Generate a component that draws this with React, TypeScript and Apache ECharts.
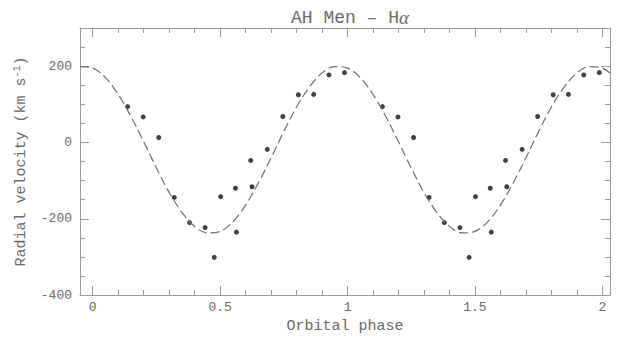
import React, { useEffect, useRef } from "react";
import * as echarts from "echarts";

// Observed radial velocities (km/s) against orbital phase, one cycle.
const phases = [
  0.137, 0.198, 0.259, 0.32, 0.38, 0.441, 0.477, 0.502, 0.56, 0.564, 0.62,
  0.625, 0.685, 0.746, 0.807, 0.867, 0.927, 0.988,
];
const velocities = [
  94, 67, 13, -144, -210, -223, -301, -142, -120, -235, -47, -116, -18, 68,
  125, 126, 177, 183,
];

// Fitted orbit, sampled every 0.05 in phase over one cycle (phase 0 .. 0.95).
const fitStep = 0.05;
const fitCycle = [
  195, 170, 126, 68, 2, -67, -131, -183, -220, -237, -233, -208, -164, -106,
  -40, 29, 93, 145, 182, 199,
];

const titleText = "AH Men – H";
const xName = "Orbital phase";

const FONT = "Liberation Mono";
const TEXT = "#6a6a6a";
const FRAME = "#9a9a9a";

export default function App() {
  const ref = useRef<HTMLDivElement>(null);

  useEffect(() => {
    if (!ref.current) return;
    const chart = echarts.init(ref.current, undefined, { renderer: "svg" });

    // Phase-folded plot: each observation is shown at φ and at φ + 1.
    const points: number[][] = [];
    for (let c = 0; c < 2; c++) {
      phases.forEach((p, i) => points.push([p + c, velocities[i]]));
    }

    // Fitted curve repeated over the plotted phase range (-0.05 .. 2.05).
    const n = fitCycle.length;
    const fit: number[][] = [];
    for (let k = -1; k <= 2 * n + 1; k++) {
      const idx = ((k % n) + n) % n;
      fit.push([+(k * fitStep).toFixed(2), fitCycle[idx]]);
    }

    const tickLine = { color: FRAME, width: 1 };
    const baseX = {
      type: "value" as const,
      min: -0.05,
      max: 2.03,
      splitNumber: 4,
      axisLine: { show: true, onZero: false, lineStyle: tickLine },
      axisTick: { show: true, inside: true, length: 9, lineStyle: tickLine },
      minorTick: { show: true, splitNumber: 5, length: 5, lineStyle: tickLine },
      splitLine: { show: false },
    };
    const baseY = {
      type: "value" as const,
      min: -400,
      max: 300,
      interval: 200,
      axisLine: { show: true, onZero: false, lineStyle: tickLine },
      axisTick: { show: true, inside: true, length: 9, lineStyle: tickLine },
      minorTick: { show: true, splitNumber: 4, length: 5, lineStyle: tickLine },
      splitLine: { show: false },
    };

    chart.setOption({
      animation: false,
      backgroundColor: "#ffffff",
      title: {
        text: `{n|${titleText}}{a|α}`,
        left: 345,
        top: 3,
        textAlign: "center",
        textStyle: {
          fontWeight: "normal",
          rich: {
            n: {
              fontFamily: FONT,
              fontSize: 18,
              fontWeight: "normal",
              color: TEXT,
            },
            a: {
              fontFamily: "Liberation Serif",
              fontStyle: "italic",
              fontWeight: "normal",
              fontSize: 19,
              color: TEXT,
            },
          },
        },
      },
      grid: { left: 80, right: 9, top: 28, bottom: 42, containLabel: false },
      xAxis: [
        {
          ...baseX,
          position: "bottom",
          name: xName,
          nameLocation: "middle",
          nameGap: 21,
          nameTextStyle: { fontFamily: FONT, fontSize: 15, color: TEXT },
          axisLabel: {
            show: true,
            margin: 6,
            fontFamily: FONT,
            fontSize: 13,
            color: TEXT,
            showMinLabel: false,
            showMaxLabel: false,
            formatter: (v: number) => String(v),
          },
        },
        {
          ...baseX,
          position: "top",
          axisLabel: { show: false },
        },
      ],
      yAxis: [
        {
          ...baseY,
          position: "left",
          name: "{t|Radial velocity (km s}{s|-1}{t|)}",
          nameLocation: "middle",
          nameGap: 50,
          nameTextStyle: {
            rich: {
              t: { fontFamily: FONT, fontSize: 15, color: TEXT },
              s: {
                fontFamily: FONT,
                fontSize: 10,
                color: TEXT,
                verticalAlign: "top",
                padding: [0, 0, 8, 0],
              },
            },
          },
          axisLabel: {
            show: true,
            margin: 8,
            fontFamily: FONT,
            fontSize: 13,
            color: TEXT,
            showMaxLabel: false,
          },
        },
        {
          ...baseY,
          position: "right",
          axisLabel: { show: false },
        },
      ],
      series: [
        {
          type: "line",
          name: "fit",
          data: fit,
          xAxisIndex: 0,
          yAxisIndex: 0,
          smooth: 0.35,
          showSymbol: false,
          symbol: "none",
          clip: true,
          lineStyle: { color: "#6e6e6e", width: 1.2, type: [9, 4] },
          silent: true,
        },
        {
          type: "scatter",
          name: "obs",
          data: points,
          xAxisIndex: 0,
          yAxisIndex: 0,
          symbol: "circle",
          symbolSize: 5,
          itemStyle: { color: "#111111" },
          silent: true,
        },
      ],
    });

    return () => chart.dispose();
  }, []);

  return (
    <div
      ref={ref}
      style={{ position: "fixed", left: 0, top: 0, width: 619, height: 339 }}
    />
  );
}
